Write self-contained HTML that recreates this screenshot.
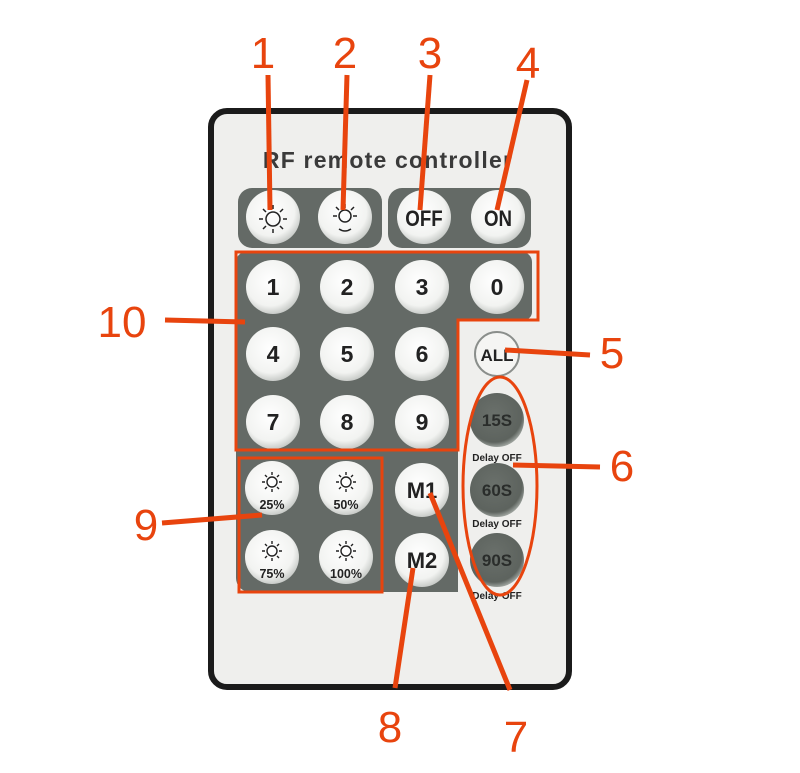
<!DOCTYPE html>
<html><head><meta charset="utf-8"><style>html,body{margin:0;padding:0;background:#fff}svg{display:block}</style></head>
<body>
<svg width="800" height="773" viewBox="0 0 800 773" xmlns="http://www.w3.org/2000/svg" font-family="Liberation Sans, sans-serif">
<defs>
<radialGradient id="wb" cx="0.45" cy="0.4" r="0.6"><stop offset="0" stop-color="#ffffff"/><stop offset="0.75" stop-color="#f2f3f1"/><stop offset="1" stop-color="#c9ccc9"/></radialGradient>
<radialGradient id="gb" cx="0.45" cy="0.4" r="0.6"><stop offset="0" stop-color="#6a706b"/><stop offset="0.85" stop-color="#5d635e"/><stop offset="1" stop-color="#9aa09b"/></radialGradient>
<g id="sun" stroke="#222" stroke-width="1.4" fill="none">
<circle cx="0" cy="0" r="5"/>
<path d="M-7 0h-3M7 0h3M0 -7v-3M0 7v3M-5 -5l-2 -2M5 -5l2 -2M-5 5l-2 2M5 5l2 2"/>
</g>
</defs>
<rect x="211" y="111" width="358" height="576" rx="16" fill="#efefed" stroke="#1b1b1b" stroke-width="6"/>
<text x="388" y="168" text-anchor="middle" font-size="23" font-weight="bold" letter-spacing="1.2" fill="#3a3a3a">RF remote controller</text>
<rect x="238" y="188" width="144" height="60" rx="14" fill="#646a66"/>
<rect x="388" y="188" width="143" height="60" rx="14" fill="#646a66"/>
<path d="M236 262 a10 10 0 0 1 10 -10 H522 a10 10 0 0 1 10 10 V312 a8 8 0 0 1 -8 8 H458 V592 H250 a14 14 0 0 1 -14 -14 Z" fill="#646a66"/>
<g fill="url(#wb)">
<circle cx="273" cy="217" r="27"/><circle cx="345" cy="217" r="27"/><circle cx="424" cy="217" r="27"/><circle cx="498" cy="217" r="27"/>
</g>
<g stroke="#222" stroke-width="1.5" fill="none">
<circle cx="273" cy="219" r="7"/><circle cx="345" cy="216" r="6"/>
<path d="M263 219h-4M283 219h4M273 209v-4M273 229v4M266 212l-3-3M280 212l3-3M266 226l-3 3M280 226l3 3"/>
<path d="M337 216h-4M353 216h4M345 208v-4M339 210l-3-3M351 210l3-3M339 229q6 4 12 0"/>
</g>
<text x="424" y="226" text-anchor="middle" font-size="22" font-weight="bold" fill="#222" transform="translate(424 0) scale(0.85 1) translate(-424 0)">OFF</text>
<text x="498" y="226" text-anchor="middle" font-size="22" font-weight="bold" fill="#222" transform="translate(498 0) scale(0.85 1) translate(-498 0)">ON</text>
<g fill="url(#wb)">
<circle cx="273" cy="287" r="27"/><circle cx="347" cy="287" r="27"/><circle cx="422" cy="287" r="27"/><circle cx="497" cy="287" r="27"/>
<circle cx="273" cy="354" r="27"/><circle cx="347" cy="354" r="27"/><circle cx="422" cy="354" r="27"/>
<circle cx="273" cy="422" r="27"/><circle cx="347" cy="422" r="27"/><circle cx="422" cy="422" r="27"/>
<circle cx="272" cy="488" r="27"/><circle cx="346" cy="488" r="27"/><circle cx="272" cy="557" r="27"/><circle cx="346" cy="557" r="27"/>
<circle cx="422" cy="490" r="27"/><circle cx="422" cy="560" r="27"/>
</g>
<g font-size="23" font-weight="bold" fill="#222" text-anchor="middle">
<text x="273" y="295">1</text><text x="347" y="295">2</text><text x="422" y="295">3</text><text x="497" y="295">0</text>
<text x="273" y="362">4</text><text x="347" y="362">5</text><text x="422" y="362">6</text>
<text x="273" y="430">7</text><text x="347" y="430">8</text><text x="422" y="430">9</text>
<text x="422" y="498" font-size="22">M1</text><text x="422" y="568" font-size="22">M2</text>
</g>
<g font-size="12.5" font-weight="bold" fill="#222" text-anchor="middle">
<text x="272" y="509">25%</text><text x="346" y="509">50%</text><text x="272" y="578">75%</text><text x="346" y="578">100%</text>
</g>
<use href="#sun" x="272" y="482"/><use href="#sun" x="346" y="482"/><use href="#sun" x="272" y="551"/><use href="#sun" x="346" y="551"/>
<circle cx="497" cy="354" r="22" fill="#f5f5f3" stroke="#8a8e8b" stroke-width="2"/>
<text x="497" y="361" text-anchor="middle" font-size="17" font-weight="bold" fill="#222">ALL</text>
<g fill="url(#gb)"><circle cx="497" cy="420" r="27"/><circle cx="497" cy="490" r="27"/><circle cx="497" cy="560" r="27"/></g>
<g font-size="17" font-weight="bold" fill="#2a2d2b" text-anchor="middle">
<text x="497" y="426">15S</text><text x="497" y="496">60S</text><text x="497" y="566">90S</text>
</g>
<g font-size="10" font-weight="bold" fill="#222" text-anchor="middle">
<text x="497" y="461">Delay OFF</text><text x="497" y="527">Delay OFF</text><text x="497" y="599">Delay OFF</text>
</g>
<g fill="none" stroke="#e8440e">
<path d="M236 252 H538 V320 H458 V450 H236 Z" stroke-width="3"/>
<rect x="239" y="458" width="143" height="134" stroke-width="3"/>
<ellipse cx="500" cy="486" rx="37" ry="109" stroke-width="3"/>
<g stroke-width="5">
<line x1="268" y1="75" x2="270" y2="210"/>
<line x1="347" y1="75" x2="343" y2="210"/>
<line x1="430" y1="75" x2="420" y2="210"/>
<line x1="527" y1="80" x2="497" y2="210"/>
<line x1="165" y1="320" x2="245" y2="322"/>
<line x1="505" y1="350" x2="590" y2="355"/>
<line x1="513" y1="465" x2="600" y2="467"/>
<line x1="162" y1="523" x2="262" y2="515"/>
<line x1="395" y1="688" x2="413" y2="568"/>
<line x1="430" y1="493" x2="510" y2="690"/>
</g>
</g>
<g font-size="44" fill="#e8440e" text-anchor="middle">
<text x="263" y="68">1</text><text x="345" y="68">2</text><text x="430" y="68">3</text><text x="528" y="78">4</text>
<text x="122" y="337">10</text><text x="612" y="368">5</text><text x="622" y="481">6</text><text x="146" y="540">9</text>
<text x="390" y="742">8</text><text x="516" y="752">7</text>
</g>
</svg>
</body></html>
